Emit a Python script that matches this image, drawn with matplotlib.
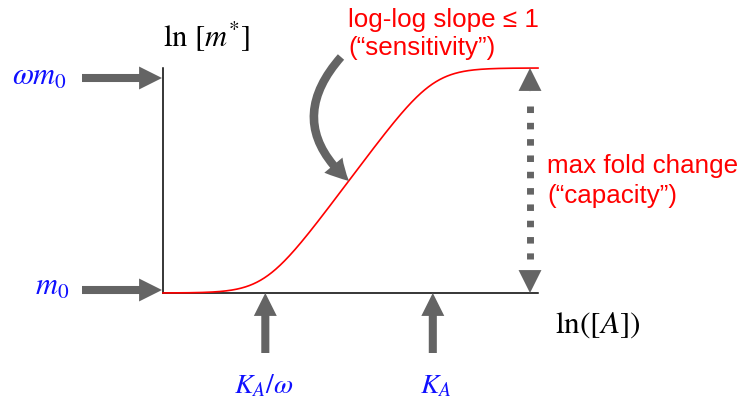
import numpy as np
import matplotlib
matplotlib.use('Agg')
from matplotlib import pyplot as plt
from matplotlib.patches import FancyArrowPatch

plt.rcParams['mathtext.fontset'] = 'stix'
plt.rcParams['lines.scale_dashes'] = False

# MWC-type response: ln m* against ln[A]
omega = 2.0e4
K_A = 1.0
m0 = 1.0

lnA_lo = np.log(K_A / omega) - 6.05
lnA_hi = np.log(K_A) + 6.22

W, H = 745, 402
GRAY = '#646464'
BLUE = '#1010ff'
RED = '#ff0000'


def fpx(x, y):
    # pixel position (from top-left) -> figure fraction
    return x / W, 1 - y / H


def main():
    lnA = np.linspace(lnA_lo, lnA_hi, 600)
    A = np.exp(lnA)
    ln_m = np.log(m0 * (1 + A / (K_A / omega)) / (1 + A / K_A))

    fig = plt.figure(figsize=(W / 100, H / 100), dpi=100, facecolor='w')
    ax = fig.add_axes([163 / W, (H - 294) / H, 375 / W, 225 / H])
    ax.plot(lnA, ln_m, color=RED, lw=1.2, zorder=3, clip_on=False)
    ax.set_xlim(lnA_lo, lnA_hi)
    ax.set_ylim(np.log(m0), np.log(omega * m0))
    for s in ['top', 'right']:
        ax.spines[s].set_visible(False)
    for s in ['left', 'bottom']:
        ax.spines[s].set_linewidth(1.1)
    ax.set_xticks([])
    ax.set_yticks([])
    ax.patch.set_alpha(0)

    block = 'simple,head_length=16.5,head_width=16.5,tail_width=5.8'
    props = dict(arrowstyle=block, mutation_scale=1, fc=GRAY, ec='none',
                 shrinkA=0, shrinkB=0)

    # horizontal arrows onto the y axis
    for y in [79, 291]:
        fig.add_artist(FancyArrowPatch(fpx(82, y), fpx(162, y),
                                       transform=fig.transFigure, **props))

    # vertical arrows onto the x axis at K_A/omega and K_A
    for xk in [np.log(K_A / omega), np.log(K_A)]:
        ax.annotate('', xy=(xk, 0), xytext=(xk, -60 / 225),
                    xycoords=('data', 'axes fraction'), arrowprops=props,
                    annotation_clip=False)

    # dotted double arrow for the fold change
    xf = (530 - 163) / 375
    ax.plot([xf, xf], [(294 - 107) / 225, (294 - 260) / 225], color=GRAY,
            lw=5, dashes=(4.7, 7.05), solid_capstyle='butt',
            dash_capstyle='butt', transform=ax.transAxes, clip_on=False)
    head = dict(arrowstyle='simple,head_length=16.5,head_width=16.5,tail_width=0.1',
                mutation_scale=1, fc=GRAY, ec='none', shrinkA=0, shrinkB=0)
    ax.annotate('', xy=(xf, 1.0), xytext=(xf, (294 - 93) / 225),
                xycoords='axes fraction', arrowprops=head, annotation_clip=False)
    ax.annotate('', xy=(xf, 0.0), xytext=(xf, (294 - 271) / 225),
                xycoords='axes fraction', arrowprops=head, annotation_clip=False)

    # curved arrow pointing at the steep part of the curve
    curved = dict(arrowstyle='simple,head_length=16,head_width=17,tail_width=6',
                  mutation_scale=1, fc=GRAY, ec='none', shrinkA=0, shrinkB=0,
                  connectionstyle='arc3,rad=0.5')
    fig.add_artist(FancyArrowPatch(fpx(341, 58), fpx(349, 182),
                                   transform=fig.transFigure, **curved))

    # axis labels
    fig.text(*fpx(163, 47), r'$\mathrm{ln}\ [m^{*}]$', fontsize=22,
             ha='left', va='baseline')
    fig.text(*fpx(555, 333), r'$\mathrm{ln}([A])$', fontsize=22.5,
             ha='left', va='baseline')

    fig.text(*fpx(12, 85), r'$\omega m_0$', fontsize=22, color=BLUE,
             ha='left', va='baseline')
    fig.text(*fpx(35, 295), r'$m_0$', fontsize=22, color=BLUE,
             ha='left', va='baseline')
    fig.text(*fpx(264, 393), r'$K_A/\omega$', fontsize=20, color=BLUE,
             ha='center', va='baseline')
    fig.text(*fpx(436, 393), r'$K_A$', fontsize=20, color=BLUE,
             ha='center', va='baseline')

    sans = ['Liberation Sans', 'DejaVu Sans']
    fig.text(*fpx(348, 27), 'log-log slope \u2264 1', fontsize=18.7,
             color=RED, family=sans, ha='left', va='baseline')
    fig.text(*fpx(348, 55), '(\u201csensitivity\u201d)', fontsize=18.7,
             color=RED, family=sans, ha='left', va='baseline')
    fig.text(*fpx(547, 173), 'max fold change', fontsize=18.7,
             color=RED, family=sans, ha='left', va='baseline')
    fig.text(*fpx(547, 203), '(\u201ccapacity\u201d)', fontsize=18.7,
             color=RED, family=sans, ha='left', va='baseline')

    fig.savefig('out.png', dpi=100, facecolor='w')
    plt.close()


if __name__ == "__main__":
    main()
